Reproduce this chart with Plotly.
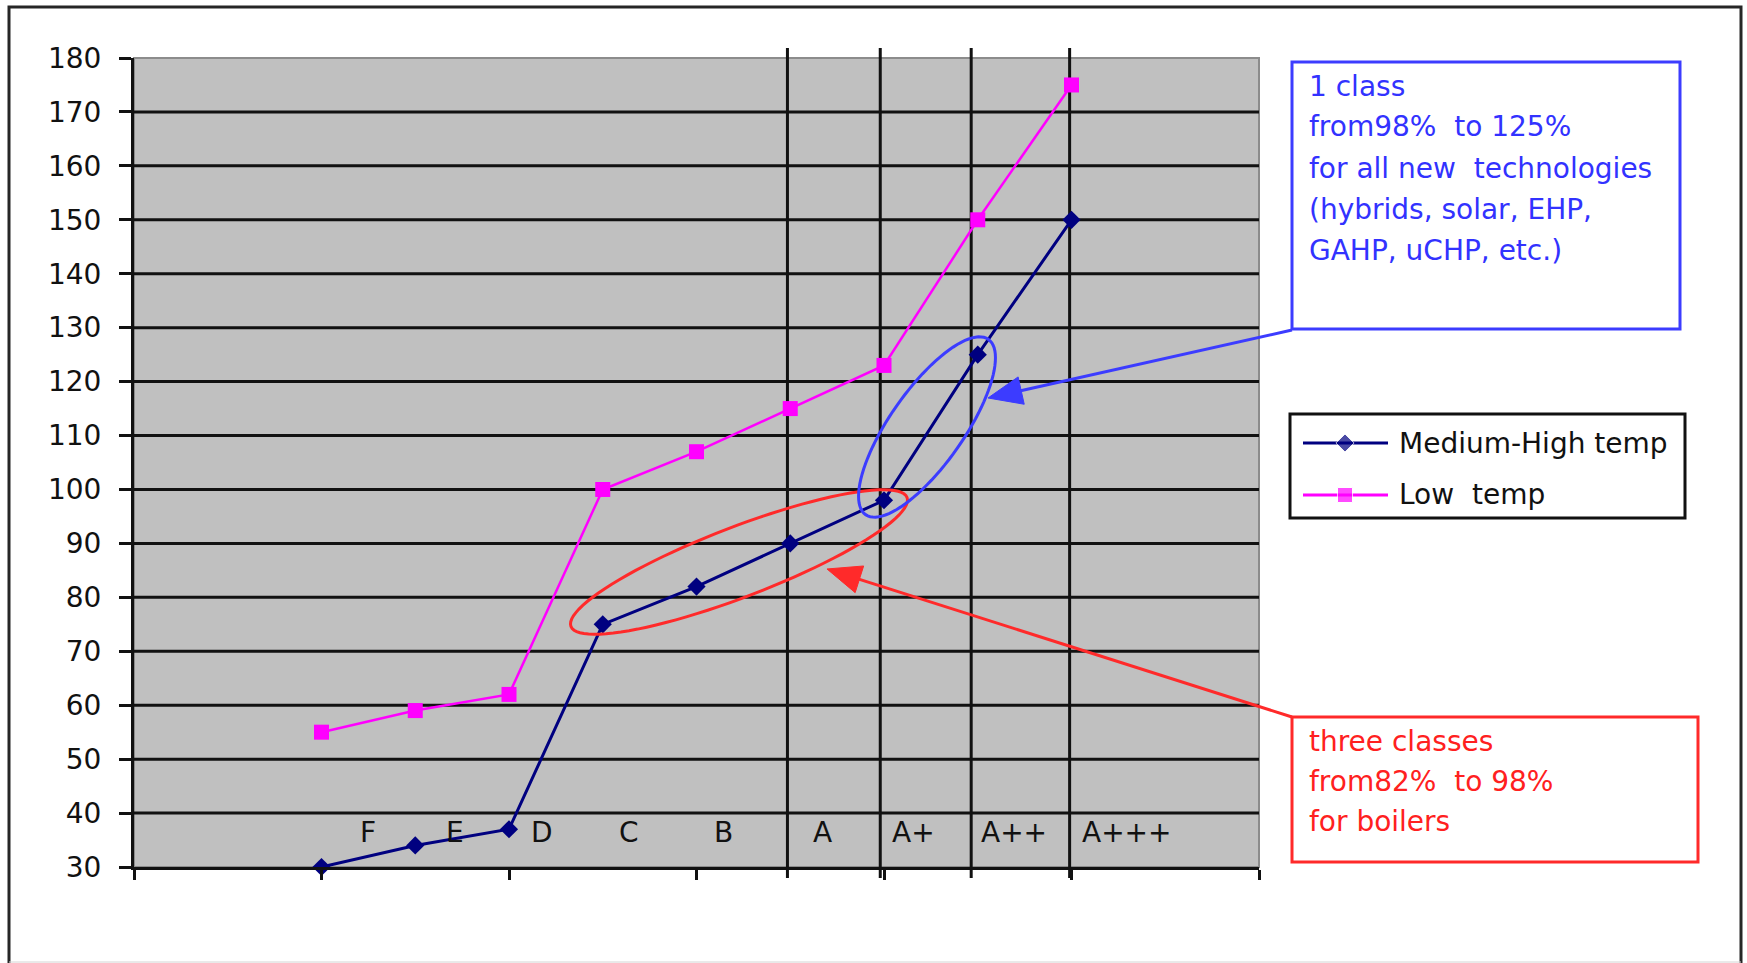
import math
import plotly.graph_objects as go

# ---------------------------------------------------------------- data
classes = ["F", "E", "D", "C", "B", "A", "A+", "A++", "A+++"]
medium_high = [30, 34, 37, 75, 82, 90, 98, 125, 150]
low_temp = [55, 59, 62, 100, 107, 115, 123, 150, 175]
series_names = ["Medium-High temp", "Low  temp"]
y_ticks = list(range(30, 181, 10))

blue_note = ["1 class", "from98%  to 125%", "for all new  technologies",
             "(hybrids, solar, EHP,", "GAHP, uCHP, etc.)"]
red_note = ["three classes", "from82%  to 98%", "for boilers"]

# ---------------------------------------------------------------- geometry
W, H = 1747, 963
PLOT_L, PLOT_R, PLOT_T, PLOT_B = 134, 1259, 58, 867
X_MIN, X_MAX = 0, 12
Y_MIN, Y_MAX = 30, 180
FIRST_SLOT = 2                     # first class sits on the third slot
label_x = [2.50, 3.42, 4.35, 5.28, 6.29, 7.34, 8.31, 9.39, 10.59]
label_y = 36.4
divider_slots = [6.97, 7.96, 8.93, 9.98]

FONT = "DejaVu Sans"
NAVY = "#000080"
MAGENTA = "#ff00ff"
BLUE = "#3c3cff"
RED = "#ff2a2a"

x_slots = [FIRST_SLOT + i for i in range(len(classes))]


def px(x):
    return x / W


def py(y):
    return 1 - y / H


def slot_px(v):
    return PLOT_L + (v - X_MIN) / (X_MAX - X_MIN) * (PLOT_R - PLOT_L)


def ellipse_path(cx, cy, a, b, deg, n=96):
    th = math.radians(deg)
    pts = []
    for k in range(n):
        t = 2 * math.pi * k / n
        ex, ey = a * math.cos(t), b * math.sin(t)
        X = cx + ex * math.cos(th) + ey * math.sin(th)
        Y = cy - ex * math.sin(th) + ey * math.cos(th)
        pts.append(f"{px(X):.5f},{py(Y):.5f}")
    return "M" + " L".join(pts) + " Z"


def arrow(x0, y0, x1, y1, color, head_len=34, head_half=14, width=3):
    dx, dy = x1 - x0, y1 - y0
    d = math.hypot(dx, dy)
    ux, uy = dx / d, dy / d
    bx, by = x1 - ux * head_len, y1 - uy * head_len
    nx, ny = -uy, ux
    out = [dict(type="line", xref="paper", yref="paper",
                x0=px(x0), y0=py(y0), x1=px(bx + ux * 4), y1=py(by + uy * 4),
                line=dict(color=color, width=width), layer="above")]
    tri = (f"M{px(x1):.5f},{py(y1):.5f} "
           f"L{px(bx + nx * head_half):.5f},{py(by + ny * head_half):.5f} "
           f"L{px(bx - nx * head_half):.5f},{py(by - ny * head_half):.5f} Z")
    out.append(dict(type="path", xref="paper", yref="paper", path=tri,
                    fillcolor=color, line=dict(color=color, width=1),
                    layer="above"))
    return out


fig = go.Figure()

# ---------------------------------------------------------------- series
fig.add_trace(go.Scatter(
    x=x_slots, y=medium_high, name=series_names[0], mode="lines+markers",
    line=dict(color=NAVY, width=3),
    marker=dict(symbol="diamond", size=14, color=NAVY),
    cliponaxis=False, showlegend=False))
fig.add_trace(go.Scatter(
    x=x_slots, y=low_temp, name=series_names[1], mode="lines+markers",
    line=dict(color=MAGENTA, width=2.5),
    marker=dict(symbol="square", size=15, color=MAGENTA),
    cliponaxis=False, showlegend=False))

# ---------------------------------------------------------------- legend (drawn on its own small axes)
LEG_L, LEG_R, LEG_T, LEG_B = 1290, 1685, 414, 518
leg_rows = [443, 495]
leg_styles = [(NAVY, "diamond", 14, 3), (MAGENTA, "square", 15, 3)]
for name, row, (col, sym, size, lw) in zip(series_names, leg_rows, leg_styles):
    fig.add_trace(go.Scatter(
        x=[1303, 1345, 1388], y=[row, row, row], mode="lines+markers",
        line=dict(color=col, width=lw),
        marker=dict(symbol=sym, size=[0, size, 0], color=col),
        xaxis="x2", yaxis="y2", showlegend=False, hoverinfo="skip"))

shapes = []

# horizontal grid
for v in y_ticks[1:-1]:
    shapes.append(dict(type="line", xref="x", yref="y", x0=X_MIN, x1=X_MAX,
                       y0=v, y1=v, line=dict(color="#111111", width=3),
                       layer="below"))

# plot-area border (top / right)
shapes.append(dict(type="rect", xref="paper", yref="paper",
                   x0=px(PLOT_L), x1=px(PLOT_R), y0=py(PLOT_B), y1=py(PLOT_T),
                   line=dict(color="#8c8c8c", width=2), layer="below"))

# class dividers, running a little past the plot area
for s in divider_slots:
    xs = px(slot_px(s))
    shapes.append(dict(type="line", xref="paper", yref="paper",
                       x0=xs, x1=xs, y0=py(48), y1=py(878),
                       line=dict(color="#111111", width=3), layer="below"))

# outer frame
shapes.append(dict(type="rect", xref="paper", yref="paper",
                   x0=px(9), x1=px(1741), y0=py(975), y1=py(7),
                   line=dict(color="#262626", width=3), layer="below"))
shapes.append(dict(type="line", xref="paper", yref="paper",
                   x0=px(9), x1=px(1741), y0=py(962), y1=py(962),
                   line=dict(color="#d4d4d4", width=1), layer="below"))

# highlight ellipses
shapes.append(dict(type="path", xref="paper", yref="paper",
                   path=ellipse_path(739, 562, 180, 35, 21),
                   line=dict(color=RED, width=3), layer="above"))
shapes.append(dict(type="path", xref="paper", yref="paper",
                   path=ellipse_path(927, 427, 107, 37, 55),
                   line=dict(color=BLUE, width=3), layer="above"))

# note boxes
shapes.append(dict(type="rect", xref="paper", yref="paper",
                   x0=px(1292), x1=px(1680), y0=py(329), y1=py(62),
                   line=dict(color=BLUE, width=3), fillcolor="white",
                   layer="above"))
shapes.append(dict(type="rect", xref="paper", yref="paper",
                   x0=px(1292), x1=px(1698), y0=py(862), y1=py(717),
                   line=dict(color=RED, width=3), fillcolor="white",
                   layer="above"))

# legend box
shapes.append(dict(type="rect", xref="paper", yref="paper",
                   x0=px(LEG_L), x1=px(LEG_R), y0=py(LEG_B), y1=py(LEG_T),
                   line=dict(color="#111111", width=3), fillcolor="white",
                   layer="below"))

# pointer arrows
shapes += arrow(1292, 330, 988, 398, BLUE)
shapes += arrow(1292, 717, 827, 569, RED)

annotations = []
for lab, xv in zip(classes, label_x):
    annotations.append(dict(x=xv, y=label_y, xref="x", yref="y", text=lab,
                            showarrow=False, xanchor="center", yanchor="middle",
                            font=dict(family=FONT, size=28, color="#111111")))

for txt, yc in zip(blue_note, [86, 127, 168, 209, 250]):
    annotations.append(dict(x=px(1307), y=py(yc), xref="paper", yref="paper",
                            text=txt, showarrow=False, xanchor="left",
                            yanchor="middle",
                            font=dict(family=FONT, size=28, color="#3232ff")))
for txt, yc in zip(red_note, [741, 781, 821]):
    annotations.append(dict(x=px(1307), y=py(yc), xref="paper", yref="paper",
                            text=txt, showarrow=False, xanchor="left",
                            yanchor="middle",
                            font=dict(family=FONT, size=28, color="#ff2020")))
for txt, yc in zip(series_names, leg_rows):
    annotations.append(dict(x=px(1397), y=py(yc), xref="paper", yref="paper",
                            text=txt, showarrow=False, xanchor="left",
                            yanchor="middle",
                            font=dict(family=FONT, size=28, color="#111111")))

fig.update_layout(
    width=W, height=H, autosize=False,
    margin=dict(l=0, r=0, t=0, b=0, autoexpand=False),
    paper_bgcolor="white", plot_bgcolor="#c0c0c0",
    showlegend=False,
    xaxis=dict(domain=[px(PLOT_L), px(PLOT_R)], range=[X_MIN, X_MAX],
               tickvals=list(range(X_MIN, X_MAX + 1, 2)), ticks="outside",
               ticklen=10, tickwidth=3, tickcolor="#111111",
               showticklabels=False, showline=True, linewidth=3,
               linecolor="#111111", showgrid=False, zeroline=False,
               automargin=False, fixedrange=True),
    yaxis=dict(domain=[py(PLOT_B), py(PLOT_T)], range=[Y_MIN, Y_MAX],
               tickvals=y_ticks, ticks="outside", ticklen=12, tickwidth=3,
               tickcolor="#111111", showline=True, linewidth=3,
               linecolor="#111111", showgrid=False, zeroline=False,
               ticklabelstandoff=12, automargin=False,
               tickfont=dict(family=FONT, size=28, color="#111111"),
               fixedrange=True),
    xaxis2=dict(domain=[px(LEG_L), px(LEG_R)], range=[LEG_L, LEG_R],
                anchor="y2", visible=False, fixedrange=True),
    yaxis2=dict(domain=[py(LEG_B), py(LEG_T)], range=[LEG_B, LEG_T],
                anchor="x2", visible=False, fixedrange=True),
    shapes=shapes,
    annotations=annotations,
)

fig.write_html(
    "out.html",
    config={"displayModeBar": False},
    post_script="document.body.style.margin='0';"
                "document.body.style.overflow='hidden';",
)
